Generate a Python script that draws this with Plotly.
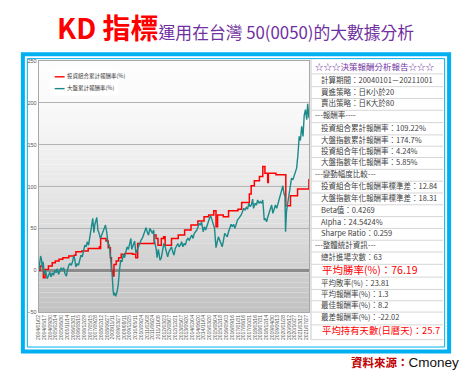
import plotly.graph_objects as go

W, H = 465, 383
def px(x): return x / W
def py(y): return 1 - y / H

# ---------------- data ----------------
series_names = ["投資組合累計報酬率(%)", "大盤累計報酬率(%)"]

market_dates = [
    "2004-01-02","2004-01-20","2004-02-15","2004-03-10","2004-03-25","2004-04-15","2004-05-10","2004-06-10",
    "2004-07-20","2004-08-20","2004-09-20","2004-10-20","2004-11-20","2004-12-20","2005-01-20","2005-02-20",
    "2005-03-20","2005-04-20","2005-05-20","2005-06-20","2005-07-20","2005-08-20","2005-09-20","2005-10-25",
    "2005-11-20","2005-12-20","2006-01-20","2006-02-20","2006-03-20","2006-04-20","2006-05-10","2006-06-10",
    "2006-07-10","2006-08-10","2006-09-10","2006-10-10","2006-11-10","2006-12-10","2007-01-10","2007-02-10",
    "2007-03-10","2007-04-10","2007-05-10","2007-06-10","2007-07-20","2007-08-15","2007-09-10","2007-10-25",
    "2007-11-20","2007-12-20","2008-01-20","2008-02-20","2008-03-20","2008-05-20","2008-06-20","2008-07-20",
    "2008-08-20","2008-09-20","2008-10-20","2008-11-20","2008-12-05","2008-12-25","2009-01-20","2009-02-20",
    "2009-03-20","2009-04-20","2009-05-20","2009-06-20","2009-07-20","2009-08-20","2009-09-20","2009-10-20",
    "2009-11-20","2009-12-20","2010-01-20","2010-02-10","2010-03-20","2010-04-20","2010-05-20","2010-06-20",
    "2010-07-20","2010-08-20","2010-09-20","2010-10-20","2010-11-20","2010-12-20","2011-01-20","2011-02-20",
    "2011-03-20","2011-04-20","2011-05-20","2011-06-20","2011-07-20","2011-08-10","2011-09-20","2011-10-10",
    "2011-11-10","2011-12-20","2012-01-20","2012-02-20","2012-03-20","2012-04-20","2012-05-20","2012-06-20",
    "2012-07-20","2012-08-20","2012-09-20","2012-10-20","2012-11-20","2012-12-20","2013-01-20","2013-02-20",
    "2013-03-20","2013-04-20","2013-05-20","2013-06-20","2013-07-20","2013-08-20","2013-09-20","2013-10-20",
    "2013-11-20","2013-12-20","2014-01-20","2014-02-20","2014-03-20","2014-04-20","2014-05-20","2014-06-20",
    "2014-07-20","2014-08-20","2014-09-10","2014-10-20","2014-11-20","2014-12-20","2015-01-20","2015-02-20",
    "2015-03-20","2015-04-20","2015-05-20","2015-06-20","2015-07-20","2015-08-24","2015-09-20","2015-10-20",
    "2015-11-20","2015-12-20","2016-01-20","2016-02-20","2016-03-20","2016-04-20","2016-05-20","2016-06-20",
    "2016-07-20","2016-08-20","2016-09-20","2016-10-20","2016-11-20","2016-12-20","2017-01-20","2017-02-20",
    "2017-03-20","2017-04-20","2017-05-20","2017-06-20","2017-07-20","2017-08-20","2017-09-20","2017-10-20",
    "2017-11-20","2017-12-20","2018-01-20","2018-02-10","2018-03-20","2018-04-20","2018-05-20","2018-06-20",
    "2018-07-20","2018-08-20","2018-09-20","2018-10-25","2018-11-20","2018-12-20","2019-01-20","2019-02-20",
    "2019-03-20","2019-04-20","2019-05-20","2019-06-20","2019-07-20","2019-08-20","2019-09-20","2019-10-20",
    "2019-11-20","2019-12-20","2020-01-15","2020-02-10","2020-03-05","2020-03-19","2020-04-10","2020-05-10",
    "2020-06-10","2020-07-10","2020-08-10","2020-09-10","2020-10-10","2020-11-10","2020-12-10","2021-01-10",
    "2021-02-10","2021-03-10","2021-04-10","2021-05-12","2021-06-10","2021-07-10","2021-08-10","2021-09-01",
    "2021-09-15","2021-10-01",
]
market_values = [
    0, 10, 17, 12, 2, 10, -5, 0,
    -10, -7, -2, -8, -3, -6, 0, -3,
    2, -5, -2, 3, 0, 3, -4, -7,
    0, 6, 8, 6, 10, 17, 14, 4,
    8, 6, 12, 18, 16, 24, 30, 28,
    34, 30, 40, 48, 62, 45, 55, 63,
    48, 44, 38, 42, 46, 54, 45, 32,
    30, 15, 0, -25, -30, -27, -31, -26,
    -18, 0, 12, 10, 19, 15, 24, 28,
    25, 32, 38, 25, 30, 35, 20, 24,
    30, 32, 36, 38, 42, 46, 51, 45,
    42, 50, 46, 44, 48, 35, 25, 15,
    25, 12, 15, 26, 32, 28, 20, 16,
    22, 25, 28, 22, 18, 26, 30, 32,
    28, 30, 34, 28, 32, 30, 36, 38,
    36, 40, 42, 38, 44, 46, 48, 52,
    56, 54, 58, 46, 52, 48, 54, 58,
    62, 65, 60, 56, 50, 27, 34, 40,
    36, 32, 28, 36, 44, 42, 40, 46,
    52, 55, 52, 55, 50, 56, 60, 62,
    64, 66, 70, 74, 72, 75, 73, 80,
    76, 78, 85, 74, 80, 78, 84, 80,
    82, 80, 84, 60, 62, 58, 64, 70,
    74, 78, 68, 74, 78, 74, 80, 86,
    90, 96, 101, 92, 88, 46, 70, 80,
    92, 105, 110, 108, 112, 118, 122, 138,
    160, 155, 172, 160, 185, 192, 180, 199,
    185, 182,
]

portfolio_dates = [
    "2004-01-02","2004-02-01","2004-04-20","2004-06-01","2004-08-20","2004-11-20","2005-02-01","2005-05-01",
    "2005-08-01","2005-12-20","2006-05-01","2006-06-10","2006-11-01","2007-04-01","2007-12-25","2008-01-10",
    "2008-01-25","2008-06-01","2008-07-25","2008-09-15","2008-10-10","2008-11-10","2008-12-10","2009-02-01",
    "2009-04-01","2009-06-01","2009-09-01","2010-03-01","2010-05-15","2010-07-01","2011-07-01","2011-08-01",
    "2011-09-15","2011-11-01","2012-01-20","2012-03-15","2012-04-20","2012-09-20","2013-03-01","2013-08-01",
    "2014-01-01","2014-06-15","2014-10-20","2014-11-10","2015-03-01","2015-07-01","2015-08-24","2015-10-01",
    "2016-02-15","2016-06-20","2017-02-01","2017-05-01","2017-11-01","2017-12-15","2018-03-01","2018-07-01",
    "2018-09-20","2018-11-10","2019-01-15","2019-02-01","2019-08-01","2020-03-15","2020-03-25","2020-07-15",
    "2021-01-01","2021-09-15","2021-10-01",
]
portfolio_values = [
    0, 5, -9, 1, 5, 9, 11, 13,
    15, 17, 18, 22, 23, 26, 28, 26,
    38, 35, 27, 15, -1, -7, 7, 11,
    15, 19, 20, 19, 15, 32, 32, 42,
    38, 30, 38, 40, 30, 38, 42, 48,
    54, 59, 59, 64, 66, 71, 52, 66,
    64, 71, 73, 81, 91, 101, 107, 112,
    124, 116, 105, 116, 114, 114, 77, 89,
    97, 97, 109,
]

tick_labels = [
    "2004/01/02","2004/05/17","2004/09/30","2005/02/14","2005/06/30","2005/11/14","2006/03/31","2006/08/15",
    "2006/12/29","2007/05/15","2007/09/28","2008/02/12","2008/06/27","2008/11/11","2009/03/27","2009/08/11",
    "2009/12/25","2010/05/11","2010/09/24","2011/02/08","2011/06/24","2011/11/08","2012/03/23","2012/08/07",
    "2012/12/21","2013/05/07","2013/09/20","2014/02/04","2014/06/20","2014/11/04","2015/03/20","2015/08/04",
    "2015/12/18","2016/05/03","2016/09/16","2017/01/31","2017/06/16","2017/10/31","2018/03/16","2018/07/31",
    "2018/12/14","2019/04/30","2019/09/13","2020/01/28","2020/06/12","2020/10/27","2021/03/12","2021/07/27",
]
y_ticks = [-50, 0, 50, 100, 150, 200, 250]

title_main = "KD 指標"
title_sub = "運用在台灣 50(0050)的大數據分析"

report_header = "☆☆☆決策報酬分析報告☆☆☆"
report_rows = [
    "計算期間：20040101－20211001",
    "買進策略：日K小於20",
    "賣出策略：日K大於80",
    "---報酬率----",
    "投資組合累計報酬率：109.22%",
    "大盤指數累計報酬率：174.7%",
    "投資組合年化報酬率：4.24%",
    "大盤指數年化報酬率：5.85%",
    "---變動幅度比較---",
    "投資組合年化報酬率標準差：12.84",
    "大盤指數年化報酬率標準差：18.31",
    "Beta值：0.4269",
    "Alpha：24.5424%",
    "Sharpe Ratio：0.259",
    "---整體統計資訊---",
    "總計進場次數：63",
    "平均勝率(%)：76.19",
    "平均敗率(%)：23.81",
    "平均報酬率(%)：1.3",
    "最佳報酬率(%)：8.2",
    "最差報酬率(%)：-22.02",
    "平均持有天數(日曆天)：25.7",
]
highlight_sizes = {"平均勝率(%)：76.19": 10.5, "平均持有天數(日曆天)：25.7": 9.4}
source_label = "資料來源："
source_name = "Cmoney"

# ---------------- style ----------------
RED = "#FF0000"
TEAL = "#1B8A8A"
BLUE = "#00B0F0"
PURPLE = "#7030A0"
CJK = "Noto Sans CJK TC"

fig = go.Figure()
fig.add_trace(go.Scatter(x=portfolio_dates, y=portfolio_values, mode="lines", name=series_names[0],
                         line=dict(color=RED, width=1.5, shape="hv"), showlegend=False))
fig.add_trace(go.Scatter(x=market_dates, y=market_values, mode="lines", name=series_names[1],
                         line=dict(color=TEAL, width=1.4), showlegend=False))

# plot area geometry (pixels)
PL, PR, PT, PB = 36, 308, 59, 314

shapes = []
n = 51
for i in range(n):
    t = (i + 0.5) / n
    c = int(round(253 - 60 * t ** 1.5))
    y0 = PT + (PB - PT) * i / n
    y1 = PT + (PB - PT) * (i + 1) / n
    shapes.append(dict(type="rect", xref="paper", yref="paper", layer="below",
                       x0=px(PL), x1=px(PR), y0=py(y1), y1=py(y0),
                       fillcolor=f"rgb({c},{c},{c})", line=dict(width=0)))

shapes.append(dict(type="rect", xref="paper", yref="paper", x0=px(20), x1=px(449), y0=py(354), y1=py(52),
                   line=dict(color=BLUE, width=4)))
shapes.append(dict(type="rect", xref="paper", yref="paper", x0=px(24.5), x1=px(444.5), y0=py(349.5), y1=py(56.5),
                   line=dict(color=BLUE, width=1)))

row_y = [65, 79, 91, 103, 115, 128, 140, 151, 163, 175, 187, 199, 211, 223, 235, 247, 259, 272, 285, 297, 308, 320, 334]
TX0, TX1 = 310, 443
shapes.append(dict(type="line", xref="paper", yref="paper", x0=px(TX0), x1=px(TX0), y0=py(342), y1=py(57),
                   line=dict(color="#c8c8c8", width=1)))
for a, b in zip(row_y[:-1], row_y[1:]):
    ym = (a + b) / 2
    shapes.append(dict(type="line", xref="paper", yref="paper", x0=px(TX0), x1=px(TX1), y0=py(ym), y1=py(ym),
                       line=dict(color="#d6d6d6", width=1)))
shapes.append(dict(type="line", xref="paper", yref="paper", x0=px(TX0), x1=px(TX1), y0=py(342), y1=py(342),
                   line=dict(color="#d6d6d6", width=1)))

shapes.append(dict(type="rect", xref="paper", yref="paper", x0=px(47), x1=px(116), y0=py(94), y1=py(67),
                   fillcolor="white", line=dict(width=0)))
legend_y = [75, 87]
legend_colors = [RED, TEAL]
for yy, col in zip(legend_y, legend_colors):
    shapes.append(dict(type="line", xref="paper", yref="paper", x0=px(52), x1=px(62), y0=py(yy), y1=py(yy),
                       line=dict(color=col, width=1.4)))

annotations = []
for yy, name in zip(legend_y, series_names):
    annotations.append(dict(text=name, x=px(62.5), y=py(yy - 0.5), xref="paper", yref="paper", xanchor="left",
                            align="left", yanchor="middle", showarrow=False,
                            font=dict(family=CJK, size=5.5, color="#333")))

title_html = (f"<span style='font-size:28px;color:{RED}'><b>{title_main}</b></span>"
              f"<span style='font-size:16.8px;color:{PURPLE}'>{title_sub}</span>")
annotations.append(dict(text=title_html, x=px(234.5), y=py(24.5), xref="paper", yref="paper",
                        xanchor="center", yanchor="middle", showarrow=False,
                        font=dict(family=CJK, size=16.8, color=PURPLE)))

annotations.append(dict(text=report_header, x=px(312), y=py(row_y[0] - 1.5), xref="paper", yref="paper",
                        xanchor="left", align="left", yanchor="middle", showarrow=False,
                        font=dict(family=CJK, size=8.5, color=PURPLE)))
for yy, txt in zip(row_y[1:], report_rows):
    if txt in highlight_sizes:
        x0, fs, col = 319, highlight_sizes[txt], RED
    elif txt.startswith("---"):
        x0, fs, col = 312, 7.5, "#404040"
    else:
        x0, fs, col = 318, 7.5, "#404040"
    annotations.append(dict(text=txt, x=px(x0), y=py(yy - 1.5), xref="paper", yref="paper", xanchor="left",
                            align="left", yanchor="middle", showarrow=False,
                            font=dict(family=CJK, size=fs, color=col)))

source_html = (f"<span style='color:#C00000;font-size:11.5px'><b>{source_label}</b></span>"
               f"<span style='color:#111111;font-family:Liberation Sans;font-size:13.5px'>{source_name}</span>")
annotations.append(dict(text=source_html, x=px(461), y=py(365), xref="paper", yref="paper",
                        xanchor="right", align="right", yanchor="middle", showarrow=False,
                        font=dict(family=CJK, size=12, color="#111")))

fig.update_layout(
    width=W, height=H, autosize=False,
    margin=dict(l=0, r=0, t=0, b=0),
    paper_bgcolor="white", plot_bgcolor="rgba(0,0,0,0)",
    shapes=shapes, annotations=annotations, showlegend=False,
    xaxis=dict(domain=[px(PL), px(PR)], type="date", range=["2004-01-01", "2021-10-03"],
               tickvals=[t.replace("/", "-") for t in tick_labels], ticktext=tick_labels,
               tickangle=-90, tickfont=dict(family="Liberation Sans", size=5, color="#555"),
               showgrid=False, showline=True, linecolor="#a8a8a8", linewidth=1, mirror=True,
               ticks="", zeroline=False),
    yaxis=dict(domain=[py(PB), py(PT)], range=[-50, 250], tickvals=y_ticks,
               tickfont=dict(family="Liberation Sans", size=5.5, color="#555"),
               showgrid=True, gridcolor="#b4b4b4", gridwidth=1,
               zeroline=True, zerolinecolor="#8c8c8c", zerolinewidth=3,
               showline=True, linecolor="#a8a8a8", linewidth=1, mirror=True, ticks=""),
)

fig.write_html("out.html", config={"displayModeBar": False},
               post_script="document.body.style.margin='0px';document.body.style.overflow='hidden';")
